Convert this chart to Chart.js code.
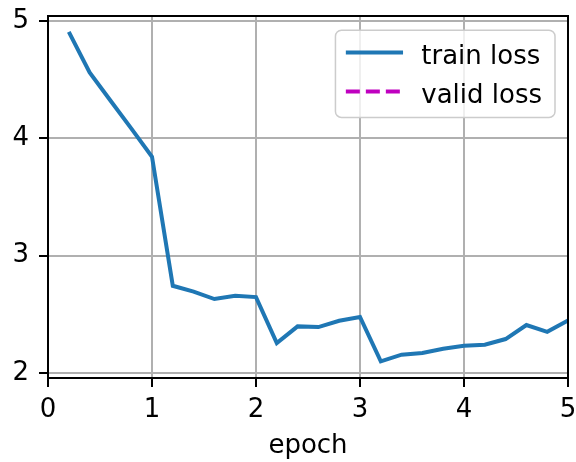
<!DOCTYPE html>
<html lang="en">
<head>
<meta charset="UTF-8">
<title>Loss curve</title>
<script src="https://cdn.jsdelivr.net/npm/chart.js"></script>
<style>
    body { margin: 0; background: #fff; }
    #wrap { width: 576px; height: 462px; }
</style>
</head>
<body>
<div id="wrap"><canvas id="lossChart" width="576" height="462"></canvas></div>
<script>
    // values
    const epochs = [0.2, 0.4, 0.6, 0.8, 1.0, 1.2, 1.4, 1.6, 1.8, 2.0, 2.2, 2.4, 2.6, 2.8, 3.0,
                    3.2, 3.4, 3.6, 3.8, 4.0, 4.2, 4.4, 4.6, 4.8, 5.0];
    const trainLoss = [4.907, 4.562, 4.323, 4.085, 3.843, 2.743, 2.694, 2.630, 2.658, 2.647,
                       2.255, 2.397, 2.391, 2.445, 2.477, 2.099, 2.156, 2.170, 2.207, 2.232,
                       2.241, 2.289, 2.409, 2.351, 2.448];
    // valid loss shows in the legend only, nothing plotted
    const validEpochs = [];
    const validLoss = [];
    const xTicks = [0, 1, 2, 3, 4, 5];
    const yTicks = [2, 3, 4, 5];

    const FS = 26;
    Chart.defaults.font.family = '"DejaVu Sans", sans-serif';
    Chart.defaults.font.size = FS;
    Chart.defaults.color = '#000';

    const toPoints = (xs, ys) => xs.map((x, i) => ({ x: x, y: ys[i] }));

    // stop chart.js from reserving room for overhanging tick labels
    const noOverhang = s => {
        s.paddingLeft = 0; s.paddingRight = 0;
        s.paddingTop = 0; s.paddingBottom = 0;
    };

    // black frame round the plot area, like matplotlib spines
    const framePlugin = {
        id: 'frame',
        afterDatasetsDraw(chart) {
            const { ctx, chartArea: a } = chart;
            ctx.save();
            ctx.strokeStyle = '#000';
            ctx.lineWidth = 2;
            ctx.strokeRect(a.left, a.top, a.right - a.left, a.bottom - a.top);
            ctx.restore();
        }
    };

    // legend box inside the upper right corner
    const legendPlugin = {
        id: 'innerLegend',
        afterDraw(chart) {
            const { ctx, chartArea: a } = chart;
            const sets = chart.data.datasets;
            ctx.save();
            ctx.font = FS + 'px "DejaVu Sans"';
            const textW = Math.max(...sets.map(d => ctx.measureText(d.label).width));
            const padL = 0.4 * FS, handle = 2.2 * FS, gap = 0.7 * FS, padR = 0.5 * FS;
            const w = padL + handle + gap + textW + padR;
            const h = 3.35 * FS;
            const right = a.right - 0.5 * FS;
            const top = a.top + 0.55 * FS;
            const left = right - w;

            ctx.beginPath();
            ctx.roundRect(left, top, w, h, 6);
            ctx.fillStyle = 'rgba(255,255,255,0.8)';
            ctx.fill();
            ctx.strokeStyle = '#cccccc';
            ctx.lineWidth = 1.5;
            ctx.stroke();

            sets.forEach((d, i) => {
                const y = top + 0.85 * FS + i * 1.5 * FS;
                ctx.beginPath();
                ctx.setLineDash(d.borderDash || []);
                ctx.strokeStyle = d.borderColor;
                ctx.lineWidth = d.borderWidth;
                ctx.moveTo(left + padL, y);
                ctx.lineTo(left + padL + handle, y);
                ctx.stroke();
                ctx.setLineDash([]);
                ctx.fillStyle = '#000';
                ctx.textBaseline = 'alphabetic';
                ctx.fillText(d.label, left + padL + handle + gap, y + 0.45 * FS);
            });
            ctx.restore();
        }
    };

    new Chart(document.getElementById('lossChart'), {
        type: 'line',
        data: {
            datasets: [{
                label: 'train loss',
                data: toPoints(epochs, trainLoss),
                borderColor: '#1f77b4',
                borderWidth: 4,
                pointRadius: 0,
                tension: 0,
                fill: false
            }, {
                label: 'valid loss',
                data: toPoints(validEpochs, validLoss),
                borderColor: '#bf00bf',
                borderWidth: 4,
                borderDash: [14, 6],
                pointRadius: 0,
                fill: false
            }]
        },
        options: {
            responsive: false,
            animation: false,
            devicePixelRatio: 1,
            layout: { padding: { top: 16, right: 8, left: 0, bottom: 0 } },
            plugins: { legend: { display: false }, tooltip: { enabled: false } },
            scales: {
                x: {
                    type: 'linear',
                    min: 0,
                    max: 5,
                    afterBuildTicks: s => { s.ticks = xTicks.map(v => ({ value: v })); },
                    afterFit: s => { s.height = 84; noOverhang(s); },
                    ticks: { padding: 8, maxRotation: 0, autoSkip: false },
                    grid: { color: '#b0b0b0', lineWidth: 2, tickLength: 9, tickColor: '#000', tickWidth: 2 },
                    border: { display: false },
                    title: { display: true, text: 'epoch', padding: { top: 0, bottom: 0 } }
                },
                y: {
                    type: 'linear',
                    min: 1.957,
                    max: 5.043,
                    afterBuildTicks: s => { s.ticks = yTicks.map(v => ({ value: v })); },
                    afterFit: s => { s.width = 48; noOverhang(s); },
                    ticks: { padding: 10 },
                    grid: { color: '#b0b0b0', lineWidth: 2, tickLength: 9, tickColor: '#000', tickWidth: 2 },
                    border: { display: false }
                }
            }
        },
        plugins: [framePlugin, legendPlugin]
    });
</script>
</body>
</html>
